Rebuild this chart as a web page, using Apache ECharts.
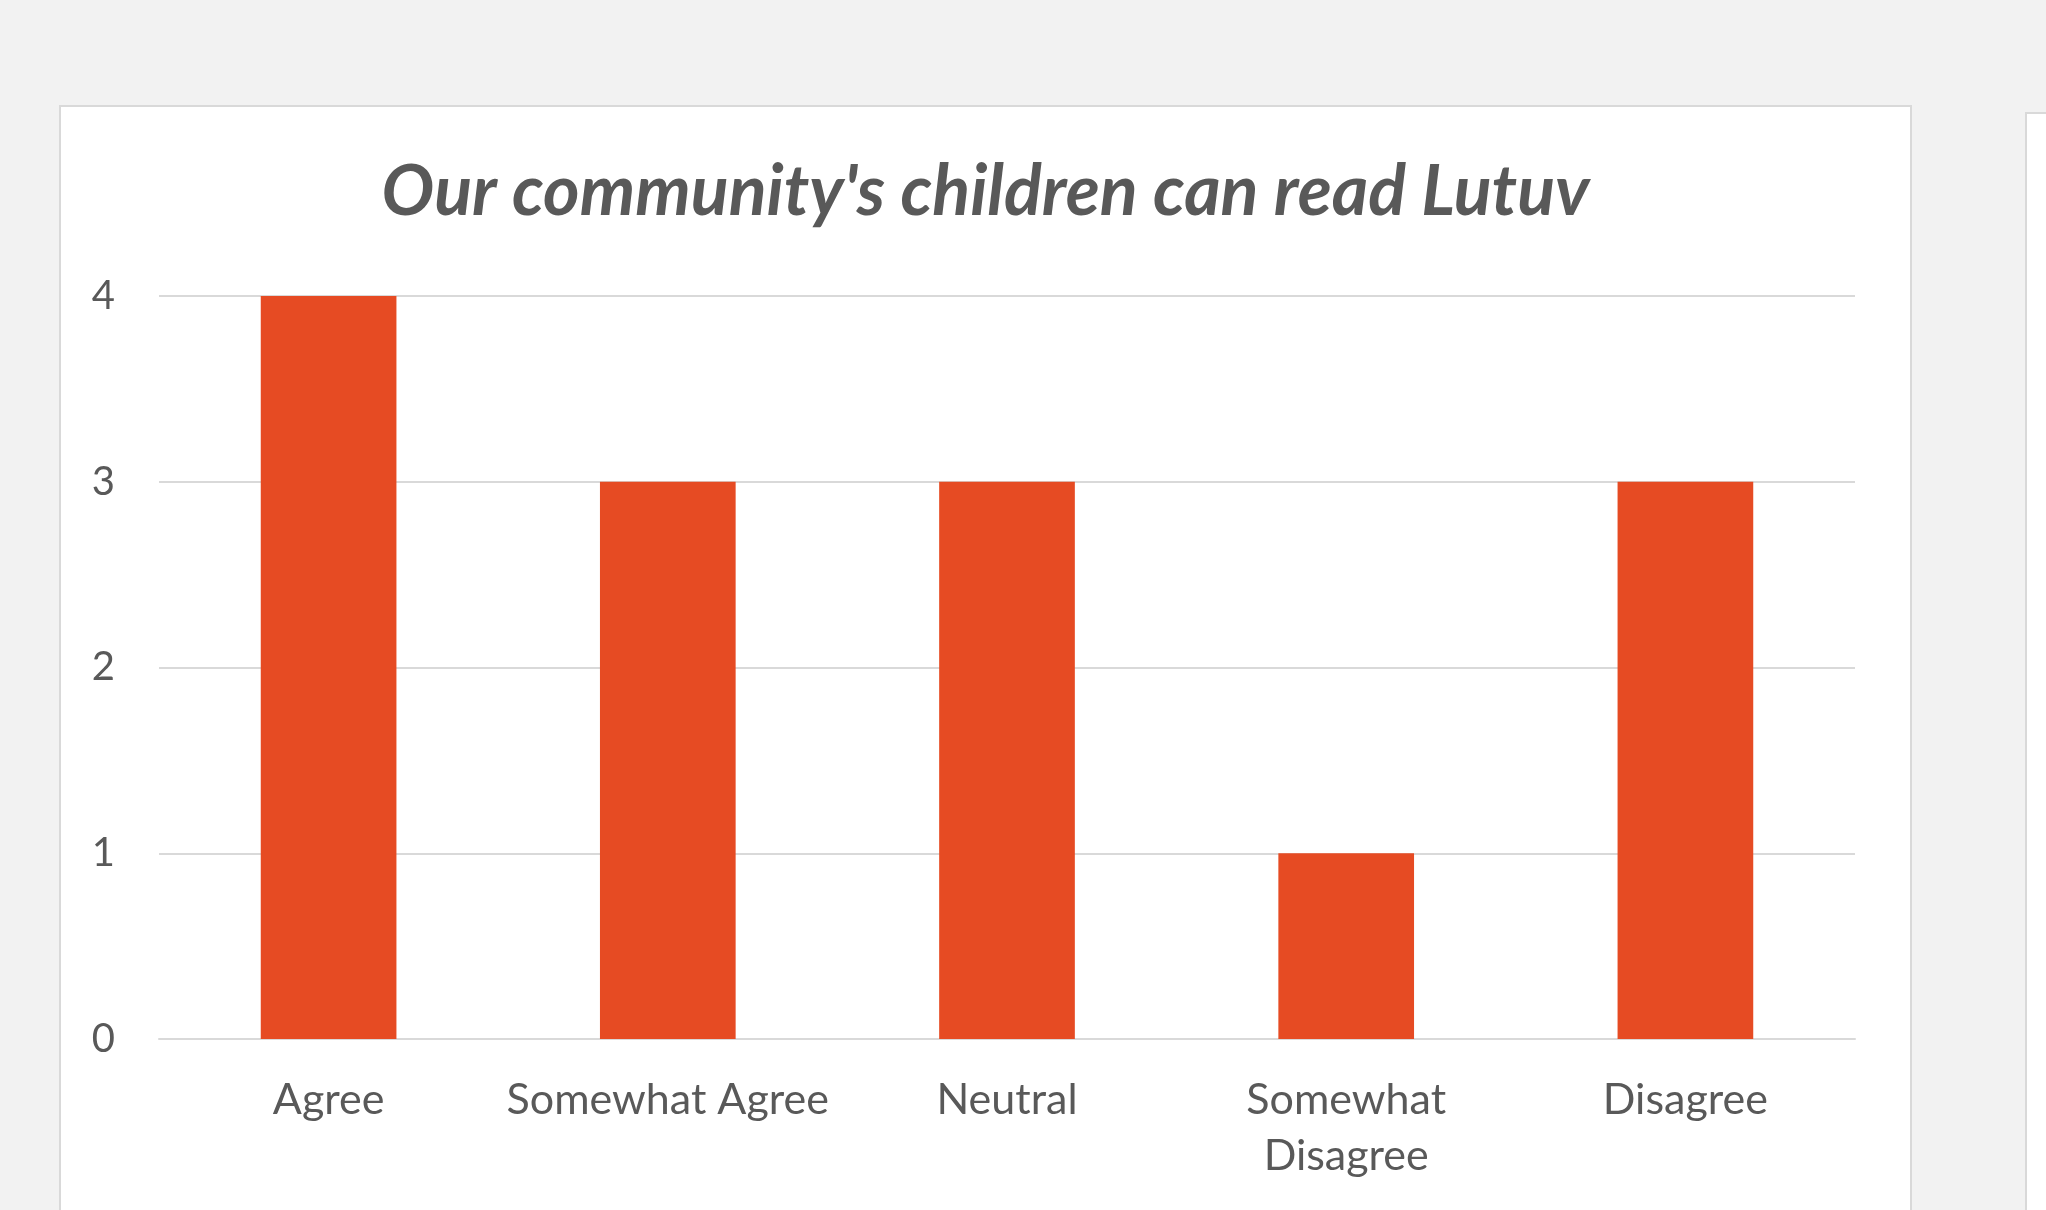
<!DOCTYPE html>
<html>
<head>
<meta charset="utf-8">
<script src="https://cdn.jsdelivr.net/npm/echarts@6/dist/echarts.min.js"></script>
<style>
  html, body { margin: 0; padding: 0; width: 2046px; height: 1210px; overflow: hidden; background: #f2f2f2; }
  .panel { position: absolute; background: #ffffff; border: 2px solid #d9d9d9; }
  #chart { left: 59px; top: 105px; width: 1849px; height: 1103px; }
  #next { left: 2025px; top: 112px; width: 200px; height: 1200px; }
</style>
</head>
<body>
<div id="chart" class="panel"></div>
<div id="next" class="panel"></div>
<script>
// Survey responses
const titleText = "Our community's children can read Lutuv";
const categories = ['Agree', 'Somewhat Agree', 'Neutral', 'Somewhat Disagree', 'Disagree'];
const counts = [4, 3, 3, 1, 3];
const yTicks = [0, 1, 2, 3, 4];

const textColor = '#595959';
const gridColor = '#d9d9d9';
const barColor = '#e64b23';
const fontFamily = 'Lato, "Open Sans", sans-serif';

// Long category names wrap onto two lines at their last space
function wrapLabel(name) {
  if (name.length <= 15) return name;
  const i = name.lastIndexOf(' ');
  return i > 0 ? name.slice(0, i) + '\n' + name.slice(i + 1) : name;
}

const chart = echarts.init(document.getElementById('chart'), null, { renderer: 'canvas' });
chart.setOption({
  animation: false,
  backgroundColor: '#ffffff',
  title: {
    text: titleText,
    left: 'center',
    top: 45,
    textStyle: {
      color: textColor,
      fontFamily: fontFamily,
      fontSize: 70,
      fontWeight: 'bold',
      fontStyle: 'italic'
    }
  },
  grid: { left: 98, right: 55, top: 189, bottom: 171, containLabel: false },
  xAxis: {
    type: 'category',
    data: categories,
    axisLine: { show: true, lineStyle: { color: gridColor, width: 2 } },
    axisTick: { show: false },
    axisLabel: {
      color: textColor,
      fontFamily: fontFamily,
      fontSize: 43,
      lineHeight: 56,
      margin: 33,
      interval: 0,
      formatter: wrapLabel
    }
  },
  yAxis: {
    type: 'value',
    min: yTicks[0],
    max: yTicks[yTicks.length - 1],
    interval: 1,
    axisLine: { show: false },
    axisTick: { show: false },
    splitLine: { show: true, lineStyle: { color: gridColor, width: 2 } },
    axisLabel: {
      color: textColor,
      fontFamily: fontFamily,
      fontSize: 40,
      margin: 44
    }
  },
  series: [{
    type: 'bar',
    data: counts,
    barCategoryGap: '60%',
    itemStyle: { color: barColor },
    z: 3
  }]
});
</script>
</body>
</html>
